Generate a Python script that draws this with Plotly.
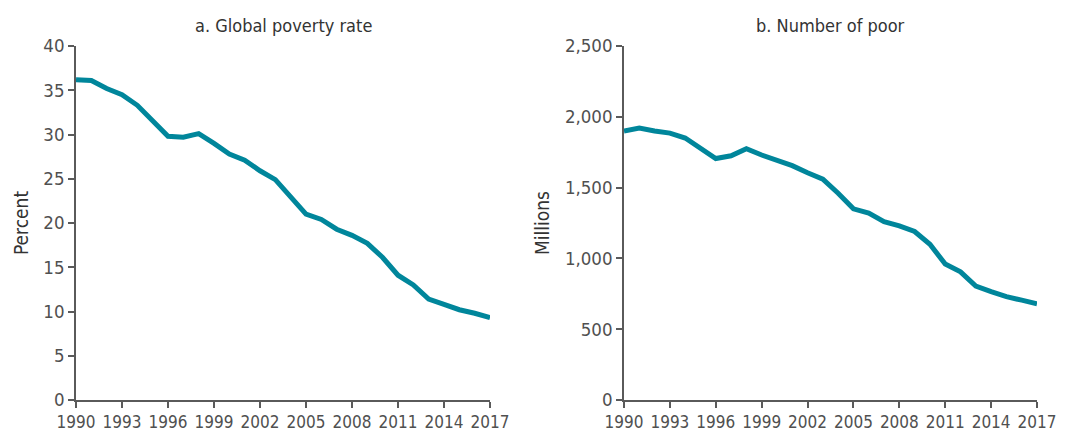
import plotly.graph_objects as go

years = list(range(1990, 2018))
poverty_rate = [36.2, 36.1, 35.2, 34.5, 33.3, 31.5, 29.8, 29.7, 30.1, 29.0,
                27.8, 27.1, 25.9, 24.9, 23.0, 21.0, 20.4, 19.3, 18.6, 17.7,
                16.1, 14.1, 13.0, 11.4, 10.8, 10.2, 9.8, 9.3]
number_poor = [1900, 1920, 1900, 1885, 1850, 1775, 1705, 1725, 1775, 1730,
               1690, 1655, 1605, 1560, 1460, 1350, 1320, 1260, 1230, 1190,
               1100, 960, 905, 805, 765, 730, 705, 680]
x_ticks = list(range(1990, 2018, 3))
titles = ["a. Global poverty rate", "b. Number of poor"]
y_titles = ["Percent", "Millions"]

LINE = "#00869b"
AX = "#5a5a5a"
FONT = "DejaVu Sans Condensed, DejaVu Sans, sans-serif"

fig = go.Figure()
fig.add_trace(go.Scatter(x=years, y=poverty_rate, mode="lines",
                         line=dict(color=LINE, width=5), xaxis="x", yaxis="y",
                         showlegend=False))
fig.add_trace(go.Scatter(x=years, y=number_poor, mode="lines",
                         line=dict(color=LINE, width=5), xaxis="x2", yaxis="y2",
                         showlegend=False))

W, H = 1071, 434
ml, mr, mt, mb = 40, 20, 46, 34
pw = W - ml - mr
d1 = [(76 - ml) / pw, (490 - ml) / pw]
d2 = [(624 - ml) / pw, (1037 - ml) / pw]

xtickfont = dict(size=17, color="#505050", family=FONT)
ytickfont = dict(size=18.5, color="#505050", family=FONT)
xcommon = dict(range=[1990, 2017], tickvals=x_ticks, showgrid=False, zeroline=False,
               showline=True, linecolor=AX, linewidth=1.5, ticks="outside",
               ticklen=6, tickcolor=AX, tickwidth=1.5, tickangle=0,
               automargin=False, tickfont=xtickfont)
ycommon = dict(showgrid=False, zeroline=False, showline=True, linecolor=AX,
               linewidth=1.5, ticks="outside", ticklen=6, tickcolor=AX, tickwidth=1.5,
               automargin=False, tickfont=ytickfont)

fig.update_layout(
    width=W, height=H,
    margin=dict(l=ml, r=mr, t=mt, b=mb),
    paper_bgcolor="white", plot_bgcolor="white",
    font=dict(family=FONT, color="#333"),
    xaxis=dict(domain=d1, anchor="y", **xcommon),
    xaxis2=dict(domain=d2, anchor="y2", **xcommon),
    yaxis=dict(domain=[0, 1], anchor="x", range=[0, 40], dtick=5,
               title=dict(text=y_titles[0], font=dict(size=19, color="#333", family=FONT),
                          standoff=10),
               **ycommon),
    yaxis2=dict(domain=[0, 1], anchor="x2", range=[0, 2500], dtick=500,
                tickformat=",d",
                title=dict(text=y_titles[1], font=dict(size=19, color="#333", family=FONT),
                           standoff=10),
                **ycommon),
    annotations=[
        dict(text=titles[0], x=(d1[0] + d1[1]) / 2, y=1, xref="paper", yref="paper",
             xanchor="center", yanchor="bottom", yshift=8, showarrow=False,
             font=dict(size=18, color="#333", family=FONT)),
        dict(text=titles[1], x=(d2[0] + d2[1]) / 2, y=1, xref="paper", yref="paper",
             xanchor="center", yanchor="bottom", yshift=8, showarrow=False,
             font=dict(size=18, color="#333", family=FONT)),
    ],
)

fig.write_html("out.html", config={"displayModeBar": False},
               post_script="document.body.style.margin='0';document.body.style.overflow='hidden';")
